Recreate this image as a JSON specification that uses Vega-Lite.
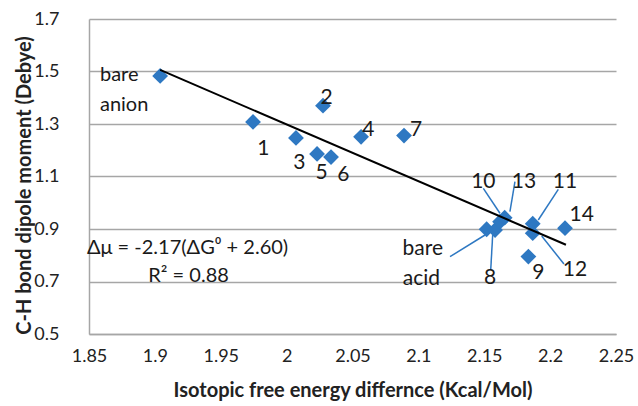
{
  "$schema": "https://vega.github.io/schema/vega-lite/v6.json",
  "width": 527,
  "height": 315,
  "autosize": {"type": "none"},
  "padding": {"left": 89, "top": 19, "right": 22, "bottom": 72},
  "background": "white",
  "config": {
    "view": {"stroke": null},
    "font": "Lato",
    "axis": {"labelFont": "Lato", "titleFont": "Lato"}
  },
  "datasets": {
    "points": [
      {"id": "bare anion", "dG": 1.904, "mu": 1.483},
      {"id": "1", "dG": 1.9745, "mu": 1.308},
      {"id": "2", "dG": 2.0276, "mu": 1.37},
      {"id": "3", "dG": 2.0071, "mu": 1.247},
      {"id": "4", "dG": 2.0565, "mu": 1.251},
      {"id": "5", "dG": 2.0231, "mu": 1.186},
      {"id": "6", "dG": 2.0337, "mu": 1.174},
      {"id": "7", "dG": 2.0891, "mu": 1.256},
      {"id": "bare acid", "dG": 2.1518, "mu": 0.899},
      {"id": "8", "dG": 2.1582, "mu": 0.896},
      {"id": "10", "dG": 2.162, "mu": 0.928},
      {"id": "13", "dG": 2.1655, "mu": 0.943},
      {"id": "11", "dG": 2.1868, "mu": 0.92},
      {"id": "12", "dG": 2.1868, "mu": 0.884},
      {"id": "9", "dG": 2.1835, "mu": 0.795},
      {"id": "14", "dG": 2.2113, "mu": 0.903}
    ],
    "trend": [
      {"dG": 1.904, "mu": 1.506},
      {"dG": 2.212, "mu": 0.84}
    ],
    "leaders": [
      {"id": "10", "x1": 2.1493, "y1": 1.055, "x2": 2.1619, "y2": 0.96},
      {"id": "13", "x1": 2.1733, "y1": 1.0803, "x2": 2.1695, "y2": 0.9659},
      {"id": "11", "x1": 2.2062, "y1": 1.0512, "x2": 2.191, "y2": 0.9343},
      {"id": "12", "x1": 2.1936, "y1": 0.8733, "x2": 2.2105, "y2": 0.7667},
      {"id": "8", "x1": 2.1564, "y1": 0.8771, "x2": 2.1549, "y2": 0.7438},
      {"id": "bare acid", "x1": 2.124, "y1": 0.7945, "x2": 2.1506, "y2": 0.8771}
    ],
    "labels": [
      {"text": "1", "dG": 1.9823, "mu": 1.2036},
      {"text": "2", "dG": 2.0304, "mu": 1.398},
      {"text": "3", "dG": 2.0096, "mu": 1.1503},
      {"text": "5", "dG": 2.0266, "mu": 1.1122},
      {"text": "6", "dG": 2.0431, "mu": 1.1057},
      {"text": "4", "dG": 2.062, "mu": 1.2771},
      {"text": "7", "dG": 2.0982, "mu": 1.2771},
      {"text": "10", "dG": 2.1493, "mu": 1.0803},
      {"text": "13", "dG": 2.1802, "mu": 1.0803},
      {"text": "11", "dG": 2.2113, "mu": 1.0803},
      {"text": "14", "dG": 2.224, "mu": 0.9533},
      {"text": "12", "dG": 2.2189, "mu": 0.7438},
      {"text": "9", "dG": 2.191, "mu": 0.7312},
      {"text": "8", "dG": 2.1544, "mu": 0.7122}
    ],
    "notes": [
      {"text": "bare", "dG": 1.8583, "mu": 1.4867},
      {"text": "anion", "dG": 1.8583, "mu": 1.372},
      {"text": "Δμ = -2.17(ΔG⁰ + 2.60)", "dG": 1.8485, "mu": 0.8276},
      {"text": "R² = 0.88", "dG": 1.895, "mu": 0.721}
    ],
    "acid": [
      {"text": "bare", "dG": 2.1187, "mu": 0.825},
      {"text": "acid", "dG": 2.1164, "mu": 0.71}
    ]
  },
  "encoding": {
    "x": {
      "field": "dG", "type": "quantitative",
      "scale": {"domain": [1.85, 2.25], "nice": false, "zero": false},
      "axis": {
        "title": "Isotopic free energy differnce (Kcal/Mol)",
        "values": [1.85, 1.9, 1.95, 2, 2.05, 2.1, 2.15, 2.2, 2.25],
        "format": "~g",
        "grid": false,
        "ticks": false,
        "domainColor": "#a6a6a6",
        "domainWidth": 1.5,
        "labelFontSize": 18,
        "labelColor": "#222222",
        "labelPadding": 13,
        "labelFlush": false,
        "titleFontSize": 20,
        "titleFontWeight": "bold",
        "titleColor": "#222222",
        "titleY": 56,
        "titleBaseline": "middle"
      }
    },
    "y": {
      "field": "mu", "type": "quantitative",
      "scale": {"domain": [0.5, 1.7], "nice": false, "zero": false},
      "axis": {
        "title": "C-H bond dipole moment (Debye)",
        "values": [0.5, 0.7, 0.9, 1.1, 1.3, 1.5, 1.7],
        "format": ".1f",
        "grid": true,
        "gridColor": "#a6a6a6",
        "gridWidth": 1.5,
        "ticks": false,
        "domainColor": "#a6a6a6",
        "domainWidth": 1.5,
        "labelFontSize": 18,
        "labelColor": "#222222",
        "labelPadding": 30,
        "titleFontSize": 20,
        "titleFontWeight": "bold",
        "titleColor": "#222222",
        "titleX": -65,
        "titleY": 166,
        "titleAngle": -90,
        "titleAlign": "center",
        "titleBaseline": "middle"
      }
    }
  },
  "layer": [
    {
      "data": {"name": "leaders"},
      "mark": {"type": "rule", "color": "#2E78C2", "strokeWidth": 1.5},
      "encoding": {
        "x": {"field": "x1", "type": "quantitative"},
        "y": {"field": "y1", "type": "quantitative"},
        "x2": {"field": "x2"},
        "y2": {"field": "y2"}
      }
    },
    {
      "data": {"name": "points"},
      "mark": {"type": "point", "shape": "diamond", "filled": true, "size": 250, "color": "#2E78C2", "opacity": 1}
    },
    {
      "data": {"name": "trend"},
      "mark": {"type": "line", "color": "#000000", "strokeWidth": 2},
      "encoding": {}
    },
    {
      "data": {"name": "labels"},
      "mark": {"type": "text", "fontSize": 21, "align": "center", "baseline": "middle", "color": "#1a1a1a"},
      "encoding": {"text": {"field": "text"}}
    },
    {
      "data": {"name": "notes"},
      "mark": {"type": "text", "fontSize": 20, "align": "left", "baseline": "middle", "color": "#1a1a1a"},
      "encoding": {"text": {"field": "text"}}
    },
    {
      "data": {"name": "acid"},
      "mark": {"type": "text", "fontSize": 21, "align": "right", "baseline": "middle", "color": "#1a1a1a"},
      "encoding": {"text": {"field": "text"}}
    }
  ]
}
